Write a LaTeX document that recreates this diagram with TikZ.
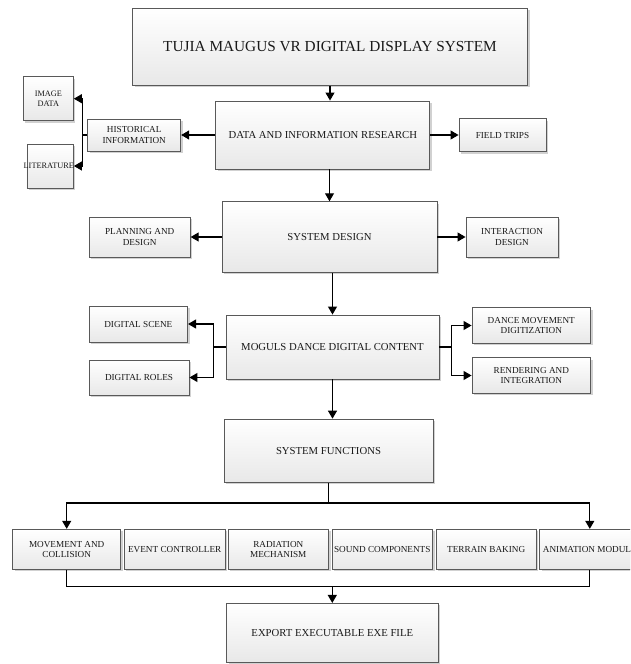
\documentclass[tikz,border=0pt]{standalone}
\usepackage{fontspec}
\setmainfont{Liberation Serif}
\usepackage{tikz}
\usetikzlibrary{arrows.meta,positioning,calc,shadows}

\begin{document}
\begin{tikzpicture}[x=1pt, y=-1pt,
    box/.style={draw=black!65, line width=0.9pt, top color=white, bottom color=black!9,
      drop shadow={shadow xshift=2pt, shadow yshift=-2pt, fill=black!40, opacity=0.45},
      inner sep=1pt, align=center, text=black!90},
    bigtext/.style={font=\fontsize{10.7}{12.5}\selectfont},
    smalltext/.style={font=\fontsize{9.2}{10.5}\selectfont},
    tinytext/.style={font=\fontsize{8.3}{10}\selectfont},
    arr/.style={-{Triangle[length=8pt,width=9pt]}, line width=1.1pt}]
    \useasboundingbox (0,0) rectangle (630,664);
    \clip (0,0) rectangle (630,664);

    % main column
    \node[box, minimum width=395pt, minimum height=77pt, font=\fontsize{15.3}{18}\selectfont]
      (top) at (330,46.7) {TUJIA MAUGUS VR DIGITAL DISPLAY SYSTEM};
    \node[box, bigtext, minimum width=214pt, minimum height=68pt] (research) at (322.8,135) {DATA AND INFORMATION RESEARCH};
    \node[box, bigtext, minimum width=215pt, minimum height=70.6pt] (design) at (329.5,237) {SYSTEM DESIGN};
    \node[box, bigtext, minimum width=213pt, minimum height=64pt] (content) at (332.5,347) {MOGULS DANCE DIGITAL CONTENT};
    \node[box, bigtext, minimum width=209pt, minimum height=63pt] (functions) at (328.5,450.6) {SYSTEM FUNCTIONS};
    \node[box, bigtext, minimum width=211.3pt, minimum height=59.2pt] (export) at (332.3,633) {EXPORT EXECUTABLE EXE FILE};

    % research branches
    \node[box, smalltext, minimum width=93pt, minimum height=32pt] (history) at (134.2,135) {HISTORICAL\\INFORMATION};
    \node[box, tinytext, minimum width=50pt, minimum height=44pt] (image) at (48.4,98.7) {IMAGE\\DATA};
    \node[box, tinytext, minimum width=46.5pt, minimum height=44pt] (literature) at (50.2,166) {\makebox[30pt]{\hspace{-2.8pt}LITERATURE}};
    \node[box, smalltext, minimum width=87pt, minimum height=33pt] (trips) at (502.5,135) {FIELD TRIPS};

    % design branches
    \node[box, smalltext, minimum width=101pt, minimum height=40pt] (planning) at (139.7,237) {PLANNING AND\\DESIGN};
    \node[box, smalltext, minimum width=92pt, minimum height=40pt] (interaction) at (512,237) {INTERACTION\\DESIGN};

    % content branches
    \node[box, smalltext, minimum width=98.6pt, minimum height=36pt] (scene) at (138.3,324) {DIGITAL SCENE};
    \node[box, smalltext, minimum width=100pt, minimum height=35pt] (roles) at (139,377.5) {DIGITAL ROLES};
    \node[box, smalltext, minimum width=118.6pt, minimum height=35.6pt] (dance) at (531.3,325.5) {DANCE MOVEMENT\\DIGITIZATION};
    \node[box, smalltext, minimum width=118.6pt, minimum height=35.6pt] (render) at (531.3,375.5) {RENDERING AND\\INTEGRATION};

    % function modules
    \node[box, smalltext, minimum width=108pt, minimum height=40pt] (movement) at (66.7,549.3) {MOVEMENT AND\\COLLISION};
    \node[box, smalltext, minimum width=100.5pt, minimum height=40pt] (event) at (174.7,549.3) {EVENT CONTROLLER};
    \node[box, smalltext, minimum width=100.5pt, minimum height=40pt] (radiation) at (278.3,549.3) {RADIATION\\MECHANISM};
    \node[box, smalltext, minimum width=100.5pt, minimum height=40pt] (sound) at (382.3,549.3) {SOUND COMPONENTS};
    \node[box, smalltext, minimum width=100.5pt, minimum height=40pt] (terrain) at (486.2,549.3) {TERRAIN BAKING};
    \node[box, smalltext, minimum width=100.5pt, minimum height=40pt] (animation) at (589.8,549.3) {ANIMATION MODULE};

    % connectors down the column
    \draw[arr] (top.south) -- (top.south |- research.north);
    \draw[arr] (design.north |- research.south) -- (design.north);
    \draw[arr] (content.north |- design.south) -- (content.north);
    \draw[arr] (content.south) -- (content.south |- functions.north);
    \draw[line width=1.1pt] (functions.south) -- ++(0,20.4) coordinate (fork);
    \draw[arr] (fork) -| (movement.north);
    \draw[arr] (fork) -| (animation.north);
    \draw[line width=1.1pt] (movement.south) -- ++(0,16.7) coordinate (merge) -| (animation.south);
    \draw[arr] (merge -| export.north) -- (export.north);

    % side connectors
    \draw[arr] (research.west) -- (history.east);
    \draw[arr] (research.east) -- (trips.west);
    \draw[line width=1.1pt] (history.west) -- ++(-5.2,0) coordinate (hfork);
    \draw[arr] (hfork) |- (image.east);
    \draw[arr] (hfork) |- (literature.east);
    \draw[arr] (design.west) -- (planning.east);
    \draw[arr] (design.east) -- (interaction.west);
    \draw[line width=1.1pt] (content.west) -- ++(-12,0) coordinate (lfork);
    \draw[arr] (lfork) |- (scene.east);
    \draw[arr] (lfork) |- (roles.east);
    \draw[line width=1.1pt] (content.east) -- ++(12,0) coordinate (rfork);
    \draw[arr] (rfork) |- (dance.west);
    \draw[arr] (rfork) |- (render.west);
\end{tikzpicture}
\end{document}
